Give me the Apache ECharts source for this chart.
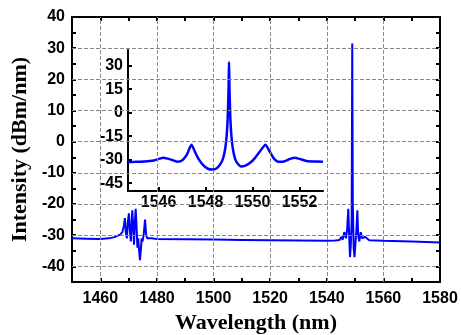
<!DOCTYPE html>
<html><head><meta charset="utf-8">
<script src="https://cdn.jsdelivr.net/npm/echarts@6/dist/echarts.min.js"></script>
<style>html,body{margin:0;padding:0;background:#fff}#c{width:461px;height:335px}</style>
</head><body><div id="c"></div>
<script>
// Main spectrum: wavelength (nm) and intensity (dBm/nm)
const mainWavelength = [1450,1455,1460,1463,1465,1466,1467,1467.8,1468.3,1468.7,1469.0,1469.4,1469.7,1470.1,1470.4,1470.8,1471.0,1471.3,1471.6,1471.9,1472.2,1472.5,1472.8,1473.1,1473.4,1473.7,1474.0,1474.3,1474.6,1474.9,1475.3,1475.8,1476.2,1476.6,1477.2,1478,1480,1490,1500,1510,1520,1530,1540,1543,1544.5,1545.2,1545.6,1546.2,1546.8,1547.2,1547.6,1547.9,1548.2,1548.5,1548.8,1549.0,1549.2,1549.5,1549.8,1550.1,1550.5,1550.8,1551.1,1551.5,1552,1552.5,1553.5,1555,1560,1570,1580];
const mainIntensity = [-31.0,-31.1,-31.2,-31.0,-30.6,-30.2,-29.8,-29,-27,-24.5,-29,-31,-26,-23,-28,-32,-27,-22,-27,-33,-26,-21.5,-27,-34,-31,-35,-38,-35,-31,-32,-30,-25,-30,-31,-30.5,-31,-31.2,-31.3,-31.4,-31.5,-31.6,-31.7,-31.8,-31.7,-31.5,-30.5,-31.5,-29,-31,-28,-21.5,-30,-37,-33,-25,31.5,-20,-34,-37,-33,-28,-22,-30,-32,-29,-31,-30.5,-31.6,-31.8,-32,-32.3];
// Inset: zoom around the lasing line
const insetWavelength = [1544.7,1545.0,1545.4,1545.8,1546.2,1546.5,1546.8,1547.0,1547.2,1547.4,1547.55,1547.7,1547.9,1548.1,1548.3,1548.5,1548.7,1548.8,1548.88,1548.94,1548.98,1549.0,1549.02,1549.06,1549.12,1549.2,1549.3,1549.5,1549.7,1549.9,1550.1,1550.35,1550.55,1550.7,1550.9,1551.1,1551.3,1551.6,1551.8,1552.0,1552.3,1552.7,1553.0];
const insetIntensity = [-31.5,-31.4,-31.2,-30.5,-28.8,-29.8,-31.3,-30.5,-27,-20.5,-25,-29.5,-33.5,-35.8,-36.3,-35.2,-31,-26,-18,-5,15,32.3,15,-5,-18,-26,-31,-34.3,-33.8,-32,-29,-24,-20.5,-24,-29,-31.3,-31.3,-29.5,-28.7,-29.5,-30.8,-31.2,-31.3];
// Ticks / labels / grid lines
const xMinorTicks = [1450,1460,1470,1480,1490,1500,1510,1520,1530,1540,1550,1560,1570,1580];
const xLabels = [1460,1480,1500,1520,1540,1560,1580];
const xGridLines = [1460,1480,1500,1520,1540,1560];
const yMinorTicks = [-45,-40,-35,-30,-25,-20,-15,-10,-5,0,5,10,15,20,25,30,35,40];
const yLabels = [-40,-30,-20,-10,0,10,20,30,40];
const yGridLines = [-40,-30,-20,-10,0,10,20,30];
const insetXLabels = [1546,1548,1550,1552];
const insetYLabels = [-45,-30,-15,0,15,30];

const zip = (a,b)=>a.map((v,i)=>[v,b[i]]);
const black = {onZero:false,lineStyle:{color:'#000',width:2}};
const fmt = v => String(v);
const lblFont = {color:'#000',fontFamily:'Liberation Sans, Arial',fontWeight:'bold',fontSize:16,formatter:fmt};
const tick = vals => ({inside:true,length:4,lineStyle:{color:'#000',width:2},customValues:vals});
const titleFont = {fontFamily:'Liberation Serif, Times New Roman',fontWeight:'bold',fontSize:22,color:'#000'};

const gridMarks = xGridLines.map(v=>({xAxis:v})).concat(yGridLines.map(v=>({yAxis:v})));

const chart = echarts.init(document.getElementById('c'));
chart.setOption({
  animation:false,
  backgroundColor:'#fff',
  grid:[
    {left:72,right:21,top:17,bottom:53,containLabel:false,outerBoundsMode:'none'},
    {left:128,right:138,top:50,bottom:144,containLabel:false,outerBoundsMode:'none'}
  ],
  xAxis:[
    {gridIndex:0,type:'value',min:1450,max:1580,position:'bottom',
     axisLine:black,axisTick:tick(xMinorTicks),
     axisLabel:Object.assign({customValues:xLabels,margin:9},lblFont),splitLine:{show:false},
     name:'Wavelength (nm)',nameLocation:'middle',nameGap:29,nameTextStyle:titleFont},
    {gridIndex:0,type:'value',min:1450,max:1580,position:'top',
     axisLine:black,axisTick:tick(xMinorTicks),
     axisLabel:{show:false},splitLine:{show:false}},
    {gridIndex:1,type:'value',min:1544.7,max:1553,position:'bottom',
     axisLine:black,axisTick:tick(insetXLabels),
     axisLabel:Object.assign({customValues:insetXLabels,margin:4},lblFont),splitLine:{show:false}}
  ],
  yAxis:[
    {gridIndex:0,type:'value',min:-45,max:40,position:'left',
     axisLine:black,axisTick:tick(yMinorTicks),
     axisLabel:Object.assign({customValues:yLabels,margin:7},lblFont),splitLine:{show:false},
     name:'Intensity (dBm/nm)',nameLocation:'middle',nameGap:37,nameTextStyle:titleFont},
    {gridIndex:0,type:'value',min:-45,max:40,position:'right',
     axisLine:black,axisTick:tick(yMinorTicks),
     axisLabel:{show:false},splitLine:{show:false}},
    {gridIndex:1,type:'value',min:-50,max:40,position:'left',
     axisLine:black,axisTick:tick(insetYLabels),
     axisLabel:Object.assign({customValues:insetYLabels,margin:5},lblFont),splitLine:{show:false}}
  ],
  series:[
    {type:'line',xAxisIndex:0,yAxisIndex:0,data:zip(mainWavelength,mainIntensity),
     showSymbol:false,lineStyle:{color:'#0000ff',width:2},
     markLine:{silent:true,symbol:['none','none'],label:{show:false},animation:false,
       lineStyle:{color:'#888',type:'dashed',width:1},emphasis:{disabled:true},data:gridMarks}},
    {type:'line',xAxisIndex:2,yAxisIndex:2,data:zip(insetWavelength,insetIntensity),
     showSymbol:false,smooth:0.2,lineStyle:{color:'#0000ff',width:2.5}}
  ]
});
</script></body></html>
